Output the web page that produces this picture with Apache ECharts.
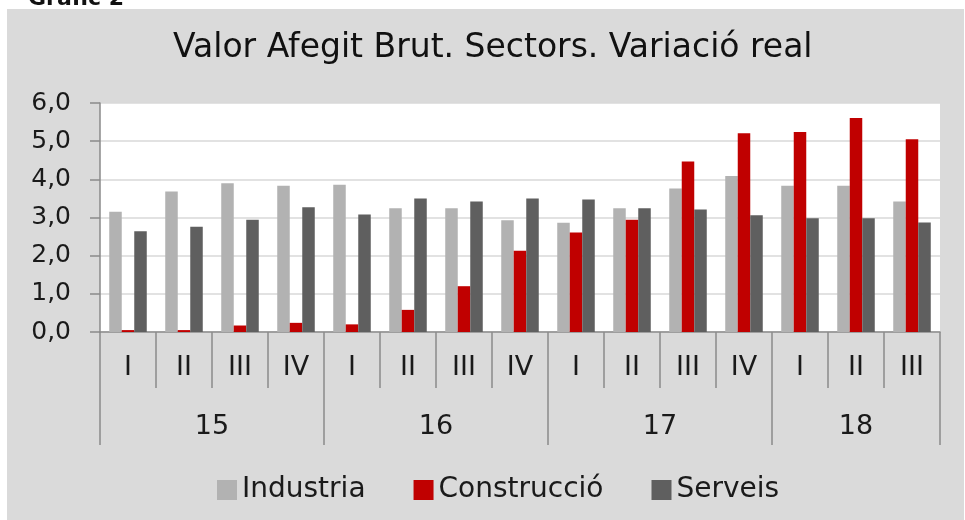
<!DOCTYPE html>
<html>
<head>
<meta charset="utf-8">
<script src="https://cdn.jsdelivr.net/npm/echarts@6/dist/echarts.min.js"></script>
<style>
  html, body { margin: 0; padding: 0; background: #fff; }
  .wrap { position: relative; width: 965px; height: 520px; overflow: hidden; }
  .panel { position: absolute; left: 7px; top: 9px; width: 957px; height: 511px; background: #dadada; }
  #chart { position: absolute; left: 0; top: 0; width: 965px; height: 520px; }
</style>
</head>
<body>
<div class="wrap">
  <div class="panel"></div>
  <div id="chart"></div>
</div>
<script>
const quarters = ['I', 'II', 'III', 'IV', 'I', 'II', 'III', 'IV', 'I', 'II', 'III', 'IV', 'I', 'II', 'III']
const years = ['15', '16', '17', '18']
const yearSpans = [4, 4, 4, 3]

const industria = [3.15, 3.68, 3.90, 3.83, 3.86, 3.24, 3.24, 2.93, 2.86, 3.24, 3.76, 4.09, 3.83, 3.83, 3.42]
const construccio = [0.05, 0.05, 0.17, 0.24, 0.20, 0.58, 1.20, 2.13, 2.61, 2.94, 4.47, 5.21, 5.24, 5.61, 5.05]
const serveis = [2.64, 2.76, 2.94, 3.27, 3.08, 3.50, 3.42, 3.50, 3.47, 3.24, 3.21, 3.06, 2.98, 2.98, 2.87]

// year group boundaries and centres, in category units
const yearBounds = [0]
yearSpans.forEach(s => yearBounds.push(yearBounds[yearBounds.length - 1] + s))
const yearCenters = yearSpans.map((s, i) => yearBounds[i] + s / 2)

const font = 'DejaVu Sans'
const axisGray = '#8a8a8a'

const myChart = echarts.init(document.getElementById('chart'), null, { renderer: 'canvas' })

const option = {
  backgroundColor: 'transparent',
  animation: false,
  title: {
    text: 'Valor Afegit Brut. Sectors. Variació real',
    left: 168,
    top: 27,
    textStyle: {
      fontFamily: font,
      fontSize: 33,
      fontWeight: 'normal',
      color: '#111'
    }
  },
  graphic: [{
    type: 'text',
    left: 28,
    top: -12,
    style: {
      text: 'Gràfic 2',
      font: 'bold 22px "DejaVu Sans"',
      fill: '#111'
    }
  }],
  legend: {
    left: 212,
    top: 471,
    itemWidth: 20,
    itemHeight: 20,
    itemGap: 48,
    icon: 'rect',
    textStyle: {
      fontFamily: font,
      fontSize: 28,
      color: '#1a1a1a'
    },
    data: ['Industria', 'Construcció', 'Serveis']
  },
  grid: {
    left: 100,
    top: 103,
    right: 25,
    bottom: 188,
    show: true,
    backgroundColor: '#fff',
    borderWidth: 0
  },
  xAxis: [{
    type: 'category',
    data: quarters,
    axisLine: { lineStyle: { color: axisGray, width: 1.5 } },
    axisTick: { show: true, interval: 0, length: 56, lineStyle: { color: axisGray, width: 1.5 } },
    axisLabel: {
      interval: 0,
      margin: 22,
      fontFamily: font,
      fontSize: 27,
      color: '#1a1a1a'
    }
  }, {
    type: 'value',
    min: 0,
    max: quarters.length,
    position: 'bottom',
    axisLine: { show: false },
    splitLine: { show: false },
    axisTick: {
      show: true,
      customValues: yearBounds,
      length: 113,
      lineStyle: { color: axisGray, width: 1.5 }
    },
    axisLabel: {
      customValues: yearCenters,
      margin: 81,
      fontFamily: font,
      fontSize: 27,
      color: '#1a1a1a',
      formatter: (v) => years[yearCenters.indexOf(v)]
    }
  }],
  yAxis: {
    type: 'value',
    min: 0,
    max: 6,
    interval: 1,
    axisLine: { show: true, lineStyle: { color: axisGray, width: 1.5 } },
    axisTick: { show: true, length: 10, lineStyle: { color: axisGray, width: 1.5 } },
    splitLine: { lineStyle: { color: '#d9d9d9', width: 1.5 } },
    axisLabel: {
      margin: 29,
      fontFamily: font,
      fontSize: 25,
      color: '#1a1a1a',
      formatter: (v) => v.toFixed(1).replace('.', ',')
    }
  },
  series: [{
    name: 'Industria',
    type: 'bar',
    data: industria,
    barGap: '0%',
    barCategoryGap: '33%',
    itemStyle: { color: '#b2b2b2' }
  }, {
    name: 'Construcció',
    type: 'bar',
    data: construccio,
    barGap: '0%',
    barCategoryGap: '33%',
    itemStyle: { color: '#c00000' }
  }, {
    name: 'Serveis',
    type: 'bar',
    data: serveis,
    barGap: '0%',
    barCategoryGap: '33%',
    itemStyle: { color: '#5f5f5f' }
  }]
}

myChart.setOption(option)
</script>
</body>
</html>
